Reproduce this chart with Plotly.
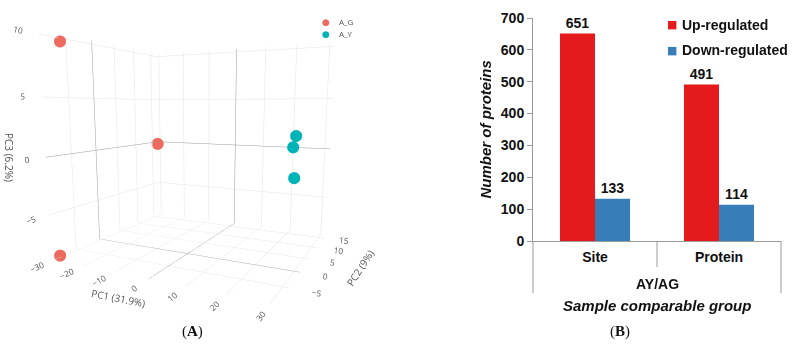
import plotly.graph_objects as go

# ---------------- data ----------------
# PCA scores (panel A)
groups = ["A_G", "A_Y"]
group_colors = ["#EC6A5E", "#00B3B6"]
pc1_G = [-30.5, -30.5, -30.5]
pc2_G = [-6.3, -8.3, 16.3]
pc3_G = [9.7, -8.9, -0.2]
pc1_Y = [30, 29.5, 30]
pc2_Y = [-1.3, -1.5, -1.5]
pc3_Y = [2.05, 1.2, -1.15]
pc_titles = ["PC1 (31.9%)", "PC2 (9%)", "PC3 (6.2%)"]
x_range = [-31, 31.5]
y_range = [-9.5, 16.8]
z_range = [-9, 10.3]

# DEP counts (panel B)
categories = ["Site", "Protein"]
up_values = [651, 491]
down_values = [133, 114]
series_names = ["Up-regulated", "Down-regulated"]
series_colors = ["#E41A1C", "#377EB8"]
group_label = "AY/AG"

W, H = 795, 358
FONT = "Liberation Sans"
GRAY_TXT = "#555"

fig = go.Figure()

# ---------------- panel A: 3D scatter ----------------
for name, col, xs, ys, zs in [
    (groups[0], group_colors[0], pc1_G, pc2_G, pc3_G),
    (groups[1], group_colors[1], pc1_Y, pc2_Y, pc3_Y),
]:
    fig.add_trace(go.Scatter3d(
        x=xs, y=ys, z=zs, mode="markers", name=name,
        marker=dict(size=7, color=col, line=dict(width=0)),
        showlegend=False, scene="scene",
    ))

axis3d = dict(
    showbackground=False, gridcolor="#e4e4e4", gridwidth=1,
    zeroline=True, zerolinecolor="#9a9a9a", zerolinewidth=1,
    showline=False, ticks="", showspikes=False, title=dict(text=""),
    tickfont=dict(family="Open Sans", size=10, color=GRAY_TXT),
)
# camera fitted to the reference box corners
cam_eye = dict(x=0.862, y=-1.769, z=0.177)
cam_center = dict(x=0, y=0, z=-0.154)
fig.update_layout(scene=dict(
    domain=dict(x=[0.0, 2 * 200.6 / W], y=[0.0, 1.0]),
    aspectmode="manual", aspectratio=dict(x=1, y=0.887, z=0.951),
    xaxis=dict(axis3d, range=x_range, dtick=10),
    yaxis=dict(axis3d, range=y_range, dtick=5),
    zaxis=dict(axis3d, range=z_range, dtick=5),
    camera=dict(eye=cam_eye, center=cam_center, up=dict(x=0, y=0, z=1)),
))

# 3D axis titles
for (tx, ty, ang), t in zip([(118, 298, 11), (360, 268, -57), (9, 157, 90)], pc_titles):
    fig.add_annotation(x=tx / W, y=1 - ty / H, xref="paper", yref="paper", text=t,
                       showarrow=False, xanchor="center", yanchor="middle", textangle=ang,
                       font=dict(family="Open Sans", size=10, color=GRAY_TXT))

# legend of panel A
for i, (g, c) in enumerate(zip(groups, group_colors)):
    fig.add_annotation(x=326 / W, y=1 - (22 + 12 * i) / H, xref="paper", yref="paper",
                       text="●", showarrow=False, xanchor="center", yanchor="middle",
                       font=dict(size=9, color=c, family="DejaVu Sans"))
    fig.add_annotation(x=337 / W, y=1 - (22 + 12 * i) / H, xref="paper", yref="paper",
                       text=g, showarrow=False, xanchor="left", yanchor="middle",
                       font=dict(size=8, color=GRAY_TXT, family="Open Sans"))

# ---------------- panel B: grouped bars ----------------
for name, col, vals in [(series_names[0], series_colors[0], up_values),
                        (series_names[1], series_colors[1], down_values)]:
    fig.add_trace(go.Bar(
        x=categories, y=vals, name=name, marker=dict(color=col, line=dict(width=0)),
        text=vals, texttemplate="%{y}", textposition="outside", cliponaxis=False,
        textfont=dict(family=FONT, size=14, color="#111", weight="bold"),
        showlegend=False, xaxis="x", yaxis="y",
    ))

fig.update_layout(
    barmode="group", bargap=0.435, bargroupgap=0,
    xaxis=dict(domain=[533 / W, 781 / W], type="category", categoryorder="array",
               categoryarray=categories, range=[-0.5, len(categories) - 0.5],
               showline=True, linecolor="#9a9a9a", linewidth=1, ticks="",
               showgrid=False, zeroline=False, ticklabelstandoff=3,
               tickfont=dict(family=FONT, size=14, color="#111", weight="bold")),
    yaxis=dict(domain=[1 - 241 / H, 1 - 18 / H], range=[0, 700], dtick=100,
               showline=True, linecolor="#9a9a9a", linewidth=1, ticks="outside",
               ticklen=5, tickcolor="#9a9a9a", showgrid=False, zeroline=False,
               tickfont=dict(family=FONT, size=14, color="#111", weight="bold")),
)

# dividers under the category axis
for xd, depth in [(0, 52), (0.5, 26), (1, 52)]:
    fig.add_shape(type="line", xref="x domain", yref="paper",
                  x0=xd, x1=xd, y0=1 - 241 / H, y1=1 - (241 + depth) / H,
                  line=dict(color="#9a9a9a", width=1))

# legend of panel B
for i, (n, c) in enumerate(zip(series_names, series_colors)):
    fig.add_annotation(x=672 / W, y=1 - (25 + 25 * i) / H, xref="paper", yref="paper",
                       text="■", showarrow=False, xanchor="center", yanchor="middle",
                       font=dict(size=11, color=c, family="DejaVu Sans"))
    fig.add_annotation(x=680 / W, y=1 - (25 + 25 * i) / H, xref="paper", yref="paper",
                       text=n, showarrow=False, xanchor="left", yanchor="middle",
                       font=dict(size=14, color="#111", family=FONT, weight="bold"))


def label(x, y, text, size, **kw):
    fig.add_annotation(x=x / W, y=1 - y / H, xref="paper", yref="paper", text=text,
                       showarrow=False, xanchor="center", yanchor="middle",
                       font=dict(size=size, color="#111", family=kw.pop("family", FONT),
                                 weight=kw.pop("weight", "normal"), style=kw.pop("style", "normal")),
                       **kw)


label(485, 129.5, "Number of proteins", 15, weight="bold", style="italic", textangle=-90)
label(657, 284, group_label, 14, weight="bold")
label(657, 305, "Sample comparable group", 15, weight="bold", style="italic")
label(192, 331, "(<b>A</b>)", 15, family="Liberation Serif")
label(620, 331, "(<b>B</b>)", 15, family="Liberation Serif")

fig.update_layout(
    width=W, height=H, margin=dict(l=0, r=0, t=0, b=0),
    paper_bgcolor="white", plot_bgcolor="white", template="none",
    font=dict(family=FONT),
)

fig.write_html("out.html")
